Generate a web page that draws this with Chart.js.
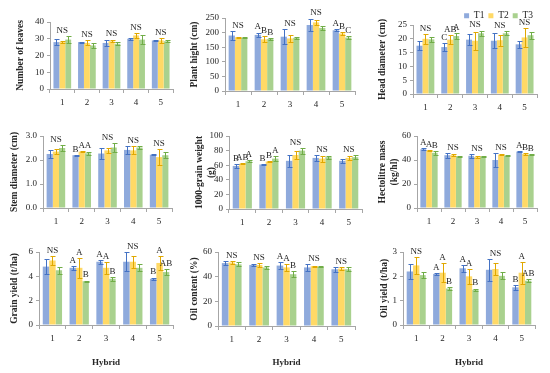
<!doctype html>
<html lang="en">
<head>
<meta charset="UTF-8">
<title>Hybrid traits under T1-T3</title>
<script src="https://cdn.jsdelivr.net/npm/chart.js"></script>
<style>
  body { margin: 0; background: #fff; }
  #wrap { position: relative; width: 550px; height: 373px; overflow: hidden; }
  #wrap canvas { position: absolute; }
</style>
</head>
<body>
<div id="wrap"></div>
<script>
const hybrids = ['1', '2', '3', '4', '5'];
const treatments = ['T1', 'T2', 'T3'];

// means per treatment (T1, T2, T3), error per treatment, significance letters per hybrid
const leavesMean = [[28, 28, 27.5, 30, 29], [28, 27.5, 28.5, 32, 29], [29.5, 26, 27, 29.5, 28.5]];
const leavesErr = [[2, 0.3, 2, 0.5, 0.5], [0.5, 1.5, 0.5, 1.5, 1.5], [2, 1.5, 1, 2.5, 0.5]];
const leavesSig = ['NS', 'NS', 'NS', 'NS', 'NS'];

const heightMean = [[190, 192, 186, 226, 208], [184, 177, 180, 235, 197], [182, 178, 182, 216, 183]];
const heightErr = [[15, 8, 25, 22, 3], [2, 10, 12, 8, 6], [2, 2, 3, 6, 6]];
const heightSig = ['NS', ['A', 'B', 'B'], 'NS', 'NS', ['A', 'B', 'C']];

const headMean = [[17.5, 17, 19.7, 19.3, 18], [20, 19.7, 19.3, 19.5, 20.5], [19.8, 21, 22, 22, 21.3]];
const headErr = [[1.7, 1.3, 2, 2.8, 1.2], [1.8, 1.5, 3.2, 2, 3.5], [1, 1.2, 1, 0.7, 1.2]];
const headSig = ['NS', ['C', 'AB', 'A'], 'NS', 'NS', 'NS'];

const stemMean = [[2.25, 2.2, 2.27, 2.42, 2.22], [2.35, 2.35, 2.4, 2.4, 2.12], [2.5, 2.28, 2.52, 2.52, 2.2]];
const stemErr = [[0.17, 0.02, 0.22, 0.17, 0.01], [0.1, 0.02, 0.1, 0.17, 0.33], [0.12, 0.07, 0.18, 0.06, 0.12]];
const stemSig = ['NS', ['B', 'A', 'A'], 'NS', 'NS', 'NS'];

const grainWMean = [[59, 61, 66, 70, 66], [62, 65, 74, 69, 70], [65.5, 69, 80, 71, 71]];
const grainWErr = [[3, 1, 8, 4, 3], [1, 1, 6, 4, 3], [1, 3.5, 4, 2, 3]];
const grainWSig = [['B', 'AB', 'A'], ['B', 'B', 'A'], 'NS', 'NS', 'NS'];

const hectoMean = [[49, 44, 43.5, 40, 47], [48, 44, 42.5, 44.5, 45], [46, 43, 43, 43.5, 44.5]];
const hectoErr = [[1, 2, 1.5, 5.5, 0.5], [0.5, 1, 1, 0.5, 0.5], [1.5, 0.5, 0.5, 0.5, 0.5]];
const hectoSig = [['A', 'A', 'B'], 'NS', 'NS', 'NS', ['A', 'B', 'B']];

const yieldMean = [[4.8, 4.7, 5.2, 5.2, 3.8], [5.3, 4.7, 4.7, 5.2, 5.1], [4.5, 3.6, 3.8, 4.7, 4.35]];
const yieldErr = [[0.6, 0.15, 0.15, 0.8, 0.1], [0.4, 0.8, 0.5, 0.5, 0.6], [0.3, 0.05, 0.15, 0.3, 0.25]];
const yieldSig = ['NS', ['A', 'A', 'B'], ['A', 'A', 'B'], 'NS', ['B', 'A', 'AB']];

const oilMean = [[51, 49.5, 49, 47.5, 46], [51.5, 49.5, 47.5, 48.5, 46.5], [50, 47.5, 42, 48, 46]];
const oilErr = [[1.5, 1, 2.5, 3, 2], [1, 1.5, 2.5, 0.5, 1], [1.5, 1.5, 2.5, 0.5, 1.5]];
const oilSig = ['NS', 'NS', ['A', 'A', 'B'], 'NS', 'NS'];

const oilYMean = [[2.2, 2.1, 2.33, 2.27, 1.55], [2.45, 2.15, 2.0, 2.3, 2.15], [2.05, 1.5, 1.45, 2.02, 1.82]];
const oilYErr = [[0.3, 0.05, 0.15, 0.45, 0.1], [0.35, 0.4, 0.3, 0.25, 0.45], [0.12, 0.06, 0.05, 0.15, 0.05]];
const oilYSig = ['NS', ['A', 'A', 'B'], ['A', 'A', 'B'], 'NS', ['B', 'A', 'AB']];

const barColors = ['#8faadc', '#ffd966', '#a9d18e'];
const errColors = ['#4472c4', '#e0a800', '#70ad47'];
const serif = "'Liberation Serif', 'DejaVu Serif', serif";
const axisGray = '#a6a6a6';
const textColor = '#262626';

// plot = [left, top, right, bottom] of the plot area in page pixels
const panels = [
  { title: 'Number of leaves', mean: leavesMean, err: leavesErr, sig: leavesSig, max: 40, step: 10, dec: 0, plot: [50, 22, 173, 89], titleX: 21, bottom: 109 },
  { title: 'Plant hight (cm)', mean: heightMean, err: heightErr, sig: heightSig, max: 250, step: 50, dec: 0, plot: [225, 18, 355, 91], titleX: 195, bottom: 111 },
  { title: 'Head diameter (cm)', mean: headMean, err: headErr, sig: headSig, max: 25, step: 5, dec: 0, plot: [413, 25, 537, 94], titleX: 383, bottom: 114, legend: true },
  { title: 'Stem diameter (cm)', mean: stemMean, err: stemErr, sig: stemSig, max: 3, step: 1, dec: 1, plot: [43, 136, 172, 208], titleX: 15, bottom: 230 },
  { title: ['1000-grain weight', '(g)'], mean: grainWMean, err: grainWErr, sig: grainWSig, max: 100, step: 20, dec: 0, plot: [229, 136, 362, 209], titleX: 200, bottom: 231 },
  { title: ['Hectolitre mass', '(kg/hl)'], mean: hectoMean, err: hectoErr, sig: hectoSig, max: 60, step: 20, dec: 0, plot: [417, 136, 537, 208], titleX: 383, bottom: 230 },
  { title: 'Grain yield (t/ha)', mean: yieldMean, err: yieldErr, sig: yieldSig, max: 6, step: 2, dec: 0, plot: [39, 252, 173, 325], titleX: 15, bottom: 368, hybrid: true },
  { title: 'Oil content (%)', mean: oilMean, err: oilErr, sig: oilSig, max: 60, step: 20, dec: 0, plot: [218, 252, 355, 326], titleX: 195, bottom: 368, hybrid: true },
  { title: 'Oil yield (t/ha)', mean: oilYMean, err: oilYErr, sig: oilYSig, max: 3, step: 1, dec: 0, plot: [403, 252, 535, 325], titleX: 385, bottom: 368, hybrid: true }
];

// error bars + significance letters
const marksPlugin = {
  id: 'marks',
  afterDatasetsDraw(chart, args, opts) {
    const p = opts.panel;
    const ctx = chart.ctx;
    const y = chart.scales.y;
    const bars = chart.data.datasets.map((d, i) => chart.getDatasetMeta(i).data);
    ctx.save();
    ctx.lineWidth = 1;
    bars.forEach((list, i) => {
      ctx.strokeStyle = errColors[i];
      list.forEach((bar, j) => {
        const m = p.mean[i][j], e = p.err[i][j];
        const x = Math.round(bar.x) + 0.5;
        const yt = Math.round(y.getPixelForValue(m + e)) + 0.5;
        const yb = Math.round(y.getPixelForValue(m - e)) + 0.5;
        ctx.beginPath();
        ctx.moveTo(x, yt); ctx.lineTo(x, yb);
        ctx.moveTo(x - 2, yt); ctx.lineTo(x + 3, yt);
        ctx.moveTo(x - 2, yb); ctx.lineTo(x + 3, yb);
        ctx.stroke();
      });
    });
    ctx.font = '9px ' + serif;
    ctx.fillStyle = textColor;
    ctx.textAlign = 'center';
    ctx.textBaseline = 'bottom';
    p.sig.forEach((s, j) => {
      const tops = p.mean.map((ser, i) => y.getPixelForValue(ser[j] + p.err[i][j]));
      if (s === 'NS') {
        ctx.fillText('NS', bars[1][j].x, Math.min(...tops) - 1);
      } else {
        s.forEach((l, i) => ctx.fillText(l, bars[i][j].x, tops[i] - 1));
      }
    });
    ctx.restore();
  }
};

const wrap = document.getElementById('wrap');

function makePanel(p) {
  const [pl, pt, pr, pb] = p.plot;
  const titleLh = 11.4;
  const left = Math.round(p.titleX - titleLh / 2);
  const top = p.legend ? 0 : pt - 16;
  const right = pr + 6;
  const cv = document.createElement('canvas');
  cv.width = right - left;
  cv.height = p.bottom - top;
  cv.style.left = left + 'px';
  cv.style.top = top + 'px';
  cv.style.width = cv.width + 'px';
  cv.style.height = cv.height + 'px';
  wrap.appendChild(cv);

  new Chart(cv, {
    type: 'bar',
    data: {
      labels: hybrids,
      datasets: treatments.map((t, i) => ({
        label: t,
        data: p.mean[i],
        backgroundColor: barColors[i],
        borderWidth: 0,
        categoryPercentage: 0.72,
        barPercentage: 1
      }))
    },
    plugins: [marksPlugin],
    options: {
      responsive: false,
      animation: false,
      devicePixelRatio: 1,
      layout: { padding: { top: p.legend ? 7 : pt - top, right: right - pr, left: 0, bottom: 0 } },
      plugins: {
        legend: {
          display: !!p.legend,
          position: 'top',
          align: 'end',
          maxHeight: pt - 7,
          labels: { boxWidth: 5, boxHeight: 5, padding: 4, color: textColor, font: { family: serif, size: 9.5 } }
        },
        tooltip: { enabled: false },
        marks: { panel: p }
      },
      scales: {
        x: {
          grid: { drawOnChartArea: false, tickLength: 4, color: axisGray, offset: true },
          border: { color: axisGray },
          ticks: { color: textColor, padding: 4, font: { family: serif, size: 9 } },
          title: {
            display: !!p.hybrid, text: 'Hybrid', color: textColor, padding: 0,
            font: { family: serif, size: 9, weight: 'bold', lineHeight: 1.2 }
          },
          afterFit: s => { s.height = p.bottom - pb; }
        },
        y: {
          min: 0,
          max: p.max,
          grid: { drawOnChartArea: false, tickLength: 3, color: axisGray },
          border: { color: axisGray },
          ticks: { stepSize: p.step, padding: 3, color: textColor, font: { family: serif, size: 9 }, callback: v => v.toFixed(p.dec) },
          title: {
            display: true, text: p.title, color: textColor, padding: 0,
            font: { family: serif, size: 9.5, weight: 'bold', lineHeight: 1.2 }
          },
          afterFit: s => { s.width = pl - left; }
        }
      }
    }
  });
}

panels.forEach(makePanel);
</script>
</body>
</html>
